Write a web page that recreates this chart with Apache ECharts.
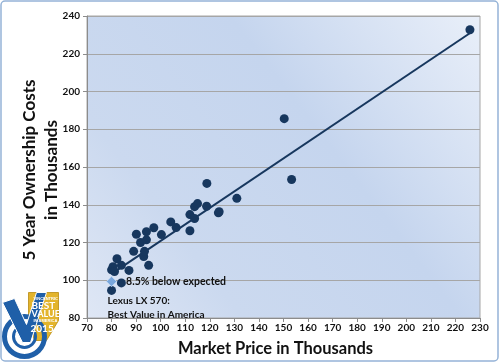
<!DOCTYPE html>
<html><head><meta charset="utf-8">
<script src="https://cdn.jsdelivr.net/npm/echarts@6/dist/echarts.min.js"></script>
<style>html,body{margin:0;padding:0;background:#fff}#c{width:500px;height:363px}</style>
</head><body><div id="c"></div>
<script>
// Market price (thousands) and 5-year ownership cost (thousands)
var marketPrice = [80.0, 80.6, 81.2, 82.2, 84.0, 87.1, 89.0, 90.1, 91.8, 93.1, 93.4, 94.2, 94.2, 95.1, 97.2, 100.3, 104.1, 106.3, 111.9, 111.9, 113.8, 113.8, 115.0, 118.8, 118.7, 123.5, 123.8, 131.0, 150.3, 153.3, 225.9, 84.0, 80.0];
var ownershipCost = [105.5, 107.2, 104.6, 111.4, 107.9, 105.2, 115.3, 124.4, 120.0, 112.6, 115.3, 125.7, 121.4, 107.9, 127.8, 124.2, 130.9, 127.9, 134.8, 126.2, 132.7, 139.0, 140.6, 151.3, 139.2, 135.7, 136.3, 143.4, 185.6, 153.4, 232.7, 98.6, 94.6];
var lexusPrice = [80.0];
var lexusCost = [99.3];
var trendX = [80.0, 226.0];
var trendY = [103.4, 231.0];
var xTicks = {min: 70, max: 230, step: 10};
var yTicks = {min: 80, max: 240, step: 20};
var xTitle = 'Market Price in Thousands';
var yTitle = '5 Year Ownership Costs\nin Thousands';
var annotation = "8.5% below expected";
var lexusNote = "Lexus LX 570:\nBest Value in America";

var navy = '#17375e';
var font = 'Lato';
var chart = echarts.init(document.getElementById('c'), null, {renderer: 'canvas'});
var pts = marketPrice.map(function (x, i) { return [x, ownershipCost[i]]; });
var lexus = lexusPrice.map(function (x, i) { return [x, lexusCost[i]]; });
var trend = trendX.map(function (x, i) { return [x, trendY[i]]; });

chart.setOption({
  animation: false,
  backgroundColor: '#fff',
  grid: {left: 87, right: 20, top: 16, bottom: 45,
    show: true, borderColor: '#a6a6a6', borderWidth: 1,
    backgroundColor: new echarts.graphic.LinearGradient(0, 1, 1, 0, [
      {offset: 0, color: '#dfe7f5'}, {offset: 0.25, color: '#cbd9ef'}, {offset: 0.6, color: '#c5d5ee'}, {offset: 1, color: '#e9eff9'}])},
  xAxis: {type: 'value', min: xTicks.min, max: xTicks.max, interval: xTicks.step,
    name: xTitle, nameLocation: 'middle', nameGap: 22,
    nameTextStyle: {fontFamily: font, fontWeight: 'bold', fontSize: 16.5, color: '#111', padding: [0, 16, 0, 0]},
    axisLine: {show: true, lineStyle: {color: '#8c8c8c'}},
    axisTick: {show: true, length: 4, lineStyle: {color: '#8c8c8c'}},
    axisLabel: {fontFamily: font, fontWeight: 'bold', fontSize: 10, color: '#111', margin: 5},
    splitLine: {show: false}},
  yAxis: {type: 'value', min: yTicks.min, max: yTicks.max, interval: yTicks.step,
    axisLine: {show: true, lineStyle: {color: '#8c8c8c'}},
    axisTick: {show: true, length: 4, lineStyle: {color: '#8c8c8c'}},
    axisLabel: {fontFamily: font, fontWeight: 'bold', fontSize: 10, color: '#111', margin: 7},
    splitLine: {show: true, lineStyle: {color: '#a6a6a6', width: 1}}},
  series: [
    {type: 'line', data: trend, symbol: 'none', lineStyle: {color: navy, width: 2}, z: 2, silent: true},
    {type: 'scatter', data: pts, symbolSize: 9, itemStyle: {color: navy, opacity: 1}, z: 3},
    {type: 'scatter', data: lexus, symbol: 'diamond', symbolSize: 10, z: 4,
      itemStyle: {color: '#7aa7dc', borderColor: '#bcd4f0', borderWidth: 1, opacity: 1},
      label: {show: true, position: 'right', distance: 9, formatter: annotation,
        fontFamily: font, fontWeight: 'bold', fontSize: 10.5, color: '#111'}}
  ]
});

var p = chart.convertToPixel({gridIndex: 0}, [lexusPrice[0], lexusCost[0]]);
chart.setOption({
  graphic: [
    {type: 'text', x: 41, y: 170, rotation: Math.PI / 2, z: 10,
      style: {text: yTitle, font: 'bold 17px ' + font, fill: '#111', lineHeight: 22,
        align: 'center', verticalAlign: 'middle'}},
    {type: 'text', left: p[0] - 4, top: p[1] + 12, z: 10,
      style: {text: lexusNote, font: 'bold 10px ' + font, fill: '#111', lineHeight: 14}},
    {type: 'rect', shape: {x: 1, y: 1, width: 497, height: 360, r: 4}, z: -1, silent: true,
      style: {fill: null, stroke: '#95b3d7', lineWidth: 1.5}},
    // badge
    {type: 'group', left: 2, top: 292, z: 20, children: [
      {type: 'polygon', shape: {points: [[28, 2], [58, 2], [58, 30], [46, 50], [34, 50], [28, 30]]},
        style: {fill: '#e3b42c', stroke: '#b88a10', lineWidth: 0.8}},
      {type: 'circle', shape: {cx: 24, cy: 46, r: 20}, style: {fill: null, stroke: '#1f5fa8', lineWidth: 5}},
      {type: 'circle', shape: {cx: 24, cy: 46, r: 11}, style: {fill: null, stroke: '#1f5fa8', lineWidth: 3}},
      {type: 'circle', shape: {cx: 24, cy: 46, r: 4}, style: {fill: '#1f5fa8'}},
      {type: 'polygon', shape: {points: [[2, 12], [14, 8], [26, 34], [36, 2], [46, 2], [30, 52], [22, 52]]},
        style: {fill: '#1f5fa8', stroke: '#fff', lineWidth: 1}},
      {type: 'text', left: 33, top: 6, style: {text: 'VINCENTRIC', font: 'bold 4px sans-serif', fill: '#fff'}},
      {type: 'text', left: 31, top: 10, style: {text: 'BEST', font: 'bold 10px ' + font, fill: '#fff'}},
      {type: 'text', left: 31, top: 19, style: {text: 'VALUE', font: 'bold 9px ' + font, fill: '#fff'}},
      {type: 'text', left: 33, top: 28, style: {text: 'IN AMERICA', font: 'bold 4px sans-serif', fill: '#fff'}},
      {type: 'text', left: 30, top: 33, style: {text: '2015', font: 'bold 10px ' + font, fill: '#fff'}}
    ]}
  ]
});
</script></body></html>
